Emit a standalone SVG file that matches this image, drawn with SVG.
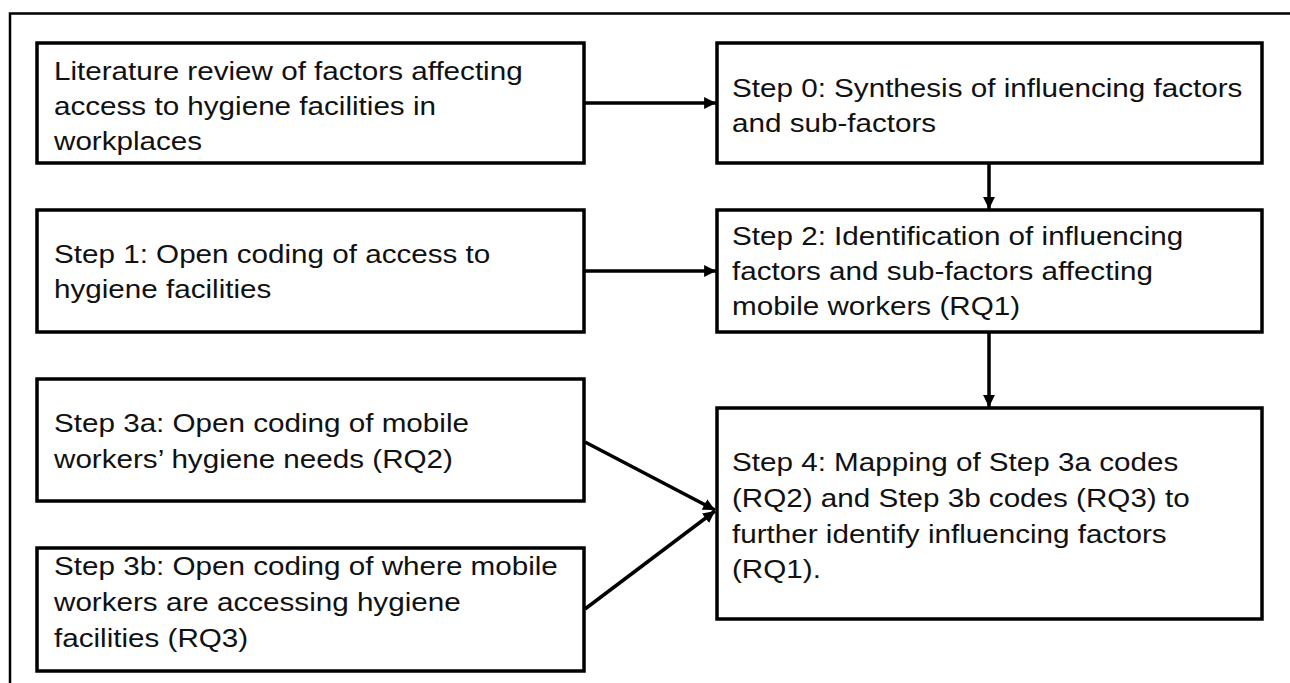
<svg xmlns="http://www.w3.org/2000/svg" width="1290" height="683" viewBox="0 0 1290 683">
<defs>
<style>
.box{fill:#ffffff;stroke:#000;stroke-width:3.5}
.t{font-family:"Liberation Sans",Arial,sans-serif;font-size:26px;fill:#111}
.c{stroke:#000;stroke-width:3.5;fill:none}
</style>
<marker id="ah" viewBox="0 0 10 10" refX="10" refY="5" markerWidth="3.4" markerHeight="3.4" markerUnits="strokeWidth" orient="auto">
<path d="M0,0 L10,5 L0,10 z" fill="#000"/>
</marker>
</defs>
<rect width="1290" height="683" fill="#ffffff"/>
<path d="M10,683 V13.5 H1290" fill="none" stroke="#000" stroke-width="2.5"/>

<g id="lit">
<rect class="box" x="37" y="43" width="547" height="120"/>
<text class="t" transform="translate(54,80) scale(1.14,1)"><tspan x="0" y="0">Literature review of factors affecting</tspan><tspan x="0" y="35">access to hygiene facilities in</tspan><tspan x="0" y="70">workplaces</tspan></text>
</g>
<g id="step0">
<rect class="box" x="717" y="43" width="545" height="120"/>
<text class="t" transform="translate(732,97) scale(1.14,1)"><tspan x="0" y="0">Step 0: Synthesis of influencing factors</tspan><tspan x="0" y="35">and sub-factors</tspan></text>
</g>
<g id="step1">
<rect class="box" x="37" y="210" width="547" height="122"/>
<text class="t" transform="translate(54,263) scale(1.14,1)"><tspan x="0" y="0">Step 1: Open coding of access to</tspan><tspan x="0" y="35">hygiene facilities</tspan></text>
</g>
<g id="step2">
<rect class="box" x="717" y="210" width="545" height="122"/>
<text class="t" transform="translate(732,245) scale(1.14,1)"><tspan x="0" y="0">Step 2: Identification of influencing</tspan><tspan x="0" y="35">factors and sub-factors affecting</tspan><tspan x="0" y="70">mobile workers (RQ1)</tspan></text>
</g>
<g id="step3a">
<rect class="box" x="37" y="379" width="547" height="122"/>
<text class="t" transform="translate(54,432) scale(1.14,1)"><tspan x="0" y="0">Step 3a: Open coding of mobile</tspan><tspan x="0" y="36">workers’ hygiene needs (RQ2)</tspan></text>
</g>
<g id="step3b">
<rect class="box" x="37" y="548" width="547" height="123"/>
<text class="t" transform="translate(54,575) scale(1.14,1)"><tspan x="0" y="0">Step 3b: Open coding of where mobile</tspan><tspan x="0" y="36">workers are accessing hygiene</tspan><tspan x="0" y="72">facilities (RQ3)</tspan></text>
</g>
<g id="step4">
<rect class="box" x="717" y="408" width="545" height="211"/>
<text class="t" transform="translate(732,471) scale(1.14,1)"><tspan x="0" y="0">Step 4: Mapping of Step 3a codes</tspan><tspan x="0" y="36">(RQ2) and Step 3b codes (RQ3) to</tspan><tspan x="0" y="72">further identify influencing factors</tspan><tspan x="0" y="107">(RQ1).</tspan></text>
</g>

<g id="connectors">
<line class="c" x1="584" y1="103" x2="716" y2="103" marker-end="url(#ah)"/>
<line class="c" x1="584" y1="271" x2="716" y2="271" marker-end="url(#ah)"/>
<line class="c" x1="989" y1="163" x2="989" y2="209" marker-end="url(#ah)"/>
<line class="c" x1="989" y1="332" x2="989" y2="407" marker-end="url(#ah)"/>
<line class="c" x1="585" y1="442" x2="715" y2="510" marker-end="url(#ah)"/>
<line class="c" x1="585" y1="609" x2="715" y2="511" marker-end="url(#ah)"/>
</g>
</svg>
